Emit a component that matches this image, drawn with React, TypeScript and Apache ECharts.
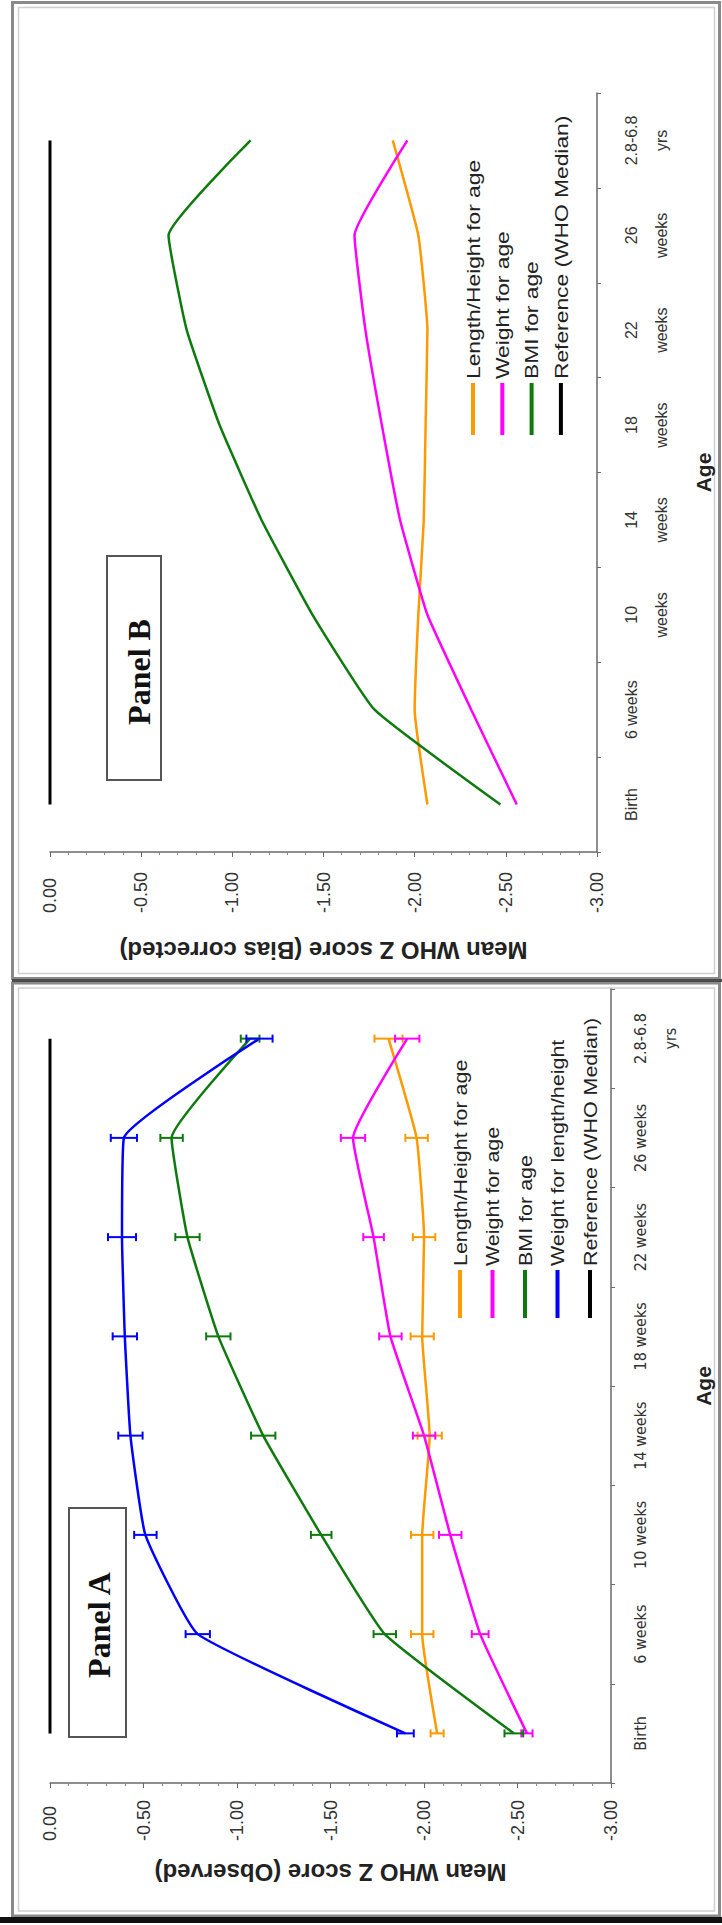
import React, { useEffect, useRef } from "react";
import * as echarts from "echarts";

// ---------- data ----------
const categoriesA = ["Birth", "6 weeks", "10 weeks", "14 weeks", "18 weeks", "22 weeks", "26 weeks", "2.8-6.8\nyrs"];
const categoriesB = ["Birth", "6 weeks", "10\nweeks", "14\nweeks", "18\nweeks", "22\nweeks", "26\nweeks", "2.8-6.8\nyrs"];

// Panel A (observed) mean WHO Z scores
const lengthA = [-2.07, -1.99, -1.99, -2.03, -1.99, -2.0, -1.96, -1.81];
const weightA = [-2.55, -2.3, -2.14, -2.0, -1.82, -1.73, -1.62, -1.91];
const bmiA = [-2.48, -1.79, -1.45, -1.14, -0.9, -0.735, -0.65, -1.07];
const wflA = [-1.9, -0.79, -0.51, -0.43, -0.4, -0.385, -0.395, -1.12];
const refA = [0, 0, 0, 0, 0, 0, 0, 0];
// Panel A half error-bar widths
const lengthErrA = [0.035, 0.06, 0.06, 0.065, 0.062, 0.06, 0.06, 0.075];
const weightErrA = [0.03, 0.045, 0.06, 0.06, 0.06, 0.055, 0.065, 0.065];
const bmiErrA = [0.05, 0.06, 0.055, 0.065, 0.065, 0.065, 0.06, 0.05];
const wflErrA = [0.045, 0.065, 0.06, 0.065, 0.065, 0.075, 0.07, 0.07];

// Panel B (bias corrected)
const lengthB = [-2.07, -2.0, -2.02, -2.05, -2.06, -2.07, -2.02, -1.88];
const weightB = [-2.56, -2.31, -2.07, -1.92, -1.82, -1.73, -1.67, -1.96];
const bmiB = [-2.47, -1.78, -1.44, -1.16, -0.93, -0.75, -0.65, -1.1];
const refB = [0, 0, 0, 0, 0, 0, 0, 0];

const legendNamesA = ["Length/Height for age", "Weight for age", "BMI for age", "Weight for length/height", "Reference (WHO Median)"];
const legendNamesB = ["Length/Height for age", "Weight for age", "BMI for age", "Reference (WHO Median)"];

// ---------- styles ----------
const ORANGE = "#FF9900";
const MAGENTA = "#FF00FF";
const GREEN = "#0E7A0E";
const BLUE = "#0000FF";
const BLACK = "#000000";
const colorsA = [ORANGE, MAGENTA, GREEN, BLUE, BLACK];
const colorsB = [ORANGE, MAGENTA, GREEN, BLACK];
const AXIS_COLOR = "#6a6a6a";
const SANS = "'Liberation Sans', Arial, sans-serif";
const NARROW = "'Liberation Sans Narrow', 'Arial Narrow', 'DejaVu Sans Condensed', 'Liberation Sans', sans-serif";
const SMOOTH = 0.12;

const valueAxis = (gridIndex: number, name: string, nameGap: number, labelMargin: number) => ({
  type: "value",
  gridIndex,
  min: -3,
  max: 0,
  interval: 0.5,
  inverse: true,
  position: "bottom",
  axisLine: { show: true, onZero: false, lineStyle: { color: AXIS_COLOR, width: 1.5 } },
  axisTick: { show: true, length: 5, lineStyle: { color: AXIS_COLOR } },
  minorTick: { show: true, splitNumber: 5, length: 3, lineStyle: { color: "#8a8a8a" } },
  splitLine: { show: false },
  axisLabel: {
    rotate: 90,
    align: "left",
    verticalAlign: "middle",
    margin: labelMargin,
    fontSize: 18,
    fontFamily: SANS,
    color: "#333",
    formatter: (v: number) => v.toFixed(2),
  },
  name,
  nameLocation: "middle",
  nameGap,
  nameRotate: 180,
  nameTextStyle: { fontSize: 24, fontWeight: "bold", color: "#222", fontFamily: SANS },
});

const catAxis = (gridIndex: number, data: string[], margin: number, lineHeight: number, fontFamily: string, nameGap: number) => ({
  type: "category",
  gridIndex,
  data,
  position: "right",
  boundaryGap: true,
  axisLine: { show: true, onZero: false, lineStyle: { color: AXIS_COLOR, width: 1.5 } },
  axisTick: { show: true, length: 4, alignWithLabel: false, lineStyle: { color: AXIS_COLOR } },
  axisLabel: { rotate: 90, margin, fontSize: 16, lineHeight, color: "#333", interval: 0, fontFamily },
  splitLine: { show: false },
  name: "Age",
  nameLocation: "middle",
  nameGap,
  nameRotate: 90,
  nameTextStyle: { fontSize: 21, fontWeight: "bold", color: "#222", fontFamily: SANS },
});

const lineSeries = (name: string, values: number[], color: string, idx: number, width = 2.5, smooth: number | boolean = SMOOTH) => ({
  type: "line",
  name,
  xAxisIndex: idx,
  yAxisIndex: idx,
  data: values.map((v, i) => [v, i]),
  showSymbol: false,
  symbol: "none",
  smooth,
  lineStyle: { color, width },
  itemStyle: { color },
  z: 3,
});

const errorSeries = (name: string, values: number[], errs: number[], color: string, idx: number) => ({
  type: "custom",
  name,
  xAxisIndex: idx,
  yAxisIndex: idx,
  encode: { x: [1, 2], y: 0 },
  data: values.map((v, i) => [i, v - errs[i], v + errs[i]]),
  z: 4,
  renderItem: (_params: any, api: any) => {
    const cat = api.value(0);
    const p1 = api.coord([api.value(1), cat]);
    const p2 = api.coord([api.value(2), cat]);
    const h = 4;
    const style = { stroke: color, lineWidth: 2 };
    return {
      type: "group",
      children: [
        { type: "line", shape: { x1: p1[0], y1: p1[1], x2: p2[0], y2: p2[1] }, style },
        { type: "line", shape: { x1: p1[0], y1: p1[1] - h, x2: p1[0], y2: p1[1] + h }, style },
        { type: "line", shape: { x1: p2[0], y1: p2[1] - h, x2: p2[0], y2: p2[1] + h }, style },
      ],
    };
  },
});

const legendGraphic = (names: string[], colors: string[], x0: number, step: number, lineTop: number, lineBottom: number, textY: number, stretch: number) => {
  const els: any[] = [];
  names.forEach((n, i) => {
    const x = x0 + i * step;
    els.push({
      type: "line",
      shape: { x1: x, y1: lineTop, x2: x, y2: lineBottom },
      style: { stroke: colors[i], lineWidth: 4 },
    });
    els.push({
      type: "text",
      x: x,
      y: textY,
      rotation: Math.PI / 2,
      scaleX: stretch,
      style: {
        text: n,
        fontSize: 19,
        fontFamily: SANS,
        fill: "#222",
        align: "left",
        verticalAlign: "middle",
        textAlign: "left",
        textVerticalAlign: "middle",
      },
    });
  });
  return els;
};

const panelBox = (x: number, y: number, w: number, h: number, tx: number, ty: number, label: string) => [
  { type: "rect", shape: { x, y, width: w, height: h }, style: { fill: "#fff", stroke: "#555", lineWidth: 2 } },
  {
    type: "text",
    x: tx,
    y: ty,
    rotation: Math.PI / 2,
    style: {
      text: label,
      fontSize: 32,
      fontWeight: "bold",
      fontFamily: "'Liberation Serif', 'Times New Roman', serif",
      fill: "#111",
      align: "center",
      verticalAlign: "middle",
      textAlign: "center",
      textVerticalAlign: "middle",
    },
  },
];

const frames = [
  // panel B frame (double line)
  { type: "rect", shape: { x: 12.5, y: 2.5, width: 707, height: 976 }, style: { fill: "none", stroke: "#8a8a8a", lineWidth: 3 } },
  { type: "rect", shape: { x: 18.5, y: 7.5, width: 696, height: 966 }, style: { fill: "none", stroke: "#cfcfcf", lineWidth: 1.5 } },
  // panel A frame
  { type: "rect", shape: { x: 12.5, y: 983, width: 707, height: 933 }, style: { fill: "none", stroke: "#8a8a8a", lineWidth: 3 } },
  { type: "rect", shape: { x: 18.5, y: 988, width: 696, height: 923 }, style: { fill: "none", stroke: "#cfcfcf", lineWidth: 1.5 } },
  // separator and bottom edge
  { type: "line", shape: { x1: 12, y1: 980.5, x2: 722, y2: 980.5 }, style: { stroke: "#4a4a4a", lineWidth: 3 } },
  { type: "line", shape: { x1: 0, y1: 1920, x2: 722, y2: 1920 }, style: { stroke: "#111", lineWidth: 6 } },
];

const option = {
  animation: false,
  backgroundColor: "#ffffff",
  textStyle: { fontFamily: SANS },
  grid: [
    { left: 50, top: 93, width: 549, height: 759, containLabel: false },
    { left: 50, top: 989, width: 569, height: 794, containLabel: false },
  ],
  xAxis: [
    valueAxis(0, "Mean WHO Z score (Bias corrected)", 86, 61),
    valueAxis(1, "Mean WHO Z score (Observed)", 77, 58),
  ],
  yAxis: [catAxis(0, categoriesB, 19, 30, SANS, 96), catAxis(1, categoriesA, 14, 30, NARROW, 76)],
  series: [
    // Panel B
    lineSeries("Reference (WHO Median)", refB, BLACK, 0, 3, false),
    lineSeries("Length/Height for age", lengthB, ORANGE, 0),
    lineSeries("Weight for age", weightB, MAGENTA, 0),
    lineSeries("BMI for age", bmiB, GREEN, 0),
    // Panel A
    lineSeries("Reference (WHO Median)", refA, BLACK, 1, 3, false),
    lineSeries("Length/Height for age", lengthA, ORANGE, 1),
    lineSeries("Weight for age", weightA, MAGENTA, 1),
    lineSeries("BMI for age", bmiA, GREEN, 1),
    lineSeries("Weight for length/height", wflA, BLUE, 1),
    errorSeries("Length/Height for age err", lengthA, lengthErrA, ORANGE, 1),
    errorSeries("Weight for age err", weightA, weightErrA, MAGENTA, 1),
    errorSeries("BMI for age err", bmiA, bmiErrA, GREEN, 1),
    errorSeries("Weight for length/height err", wflA, wflErrA, BLUE, 1),
  ],
  graphic: {
    elements: [
      ...frames,
      ...panelBox(107, 556, 54, 224, 139, 672, "Panel B"),
      ...panelBox(69, 1508, 57, 229, 99, 1625, "Panel A"),
      ...legendGraphic(legendNamesB, colorsB, 473, 29.3, 383, 435, 379, 1.2),
      ...legendGraphic(legendNamesA, colorsA, 460, 32.5, 1270, 1318, 1266, 1.13),
    ],
  },
};

export default function App() {
  const ref = useRef<HTMLDivElement>(null);
  useEffect(() => {
    if (!ref.current) return;
    const chart = echarts.init(ref.current, null, { renderer: "svg" });
    chart.setOption(option as any);
    return () => chart.dispose();
  }, []);
  return (
    <div
      ref={ref}
      style={{ position: "absolute", left: 0, top: 0, width: 722, height: 1925, background: "#fff" }}
    />
  );
}
